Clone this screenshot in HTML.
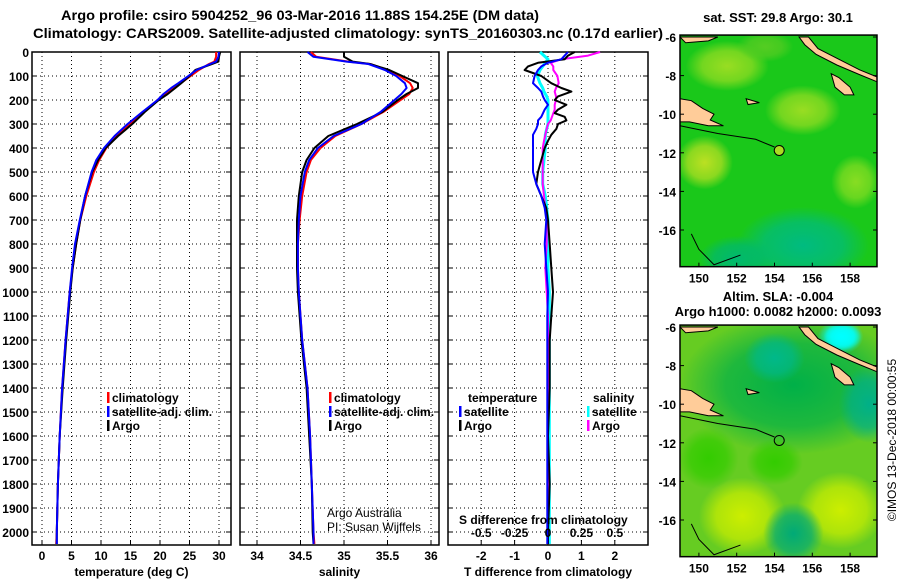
<!DOCTYPE html>
<html><head><meta charset="utf-8">
<style>
html,body{margin:0;padding:0;background:#fff;}
svg{display:block;font-family:"Liberation Sans",Arial,sans-serif;}
.t{font-weight:bold;font-size:12px;fill:#000;}
.title{font-weight:bold;font-size:14px;fill:#000;}
.mt{font-weight:bold;font-size:13px;fill:#000;}
</style></head>
<body>
<svg id="chart" width="900" height="580" viewBox="0 0 900 580" xmlns="http://www.w3.org/2000/svg">
<rect x="0" y="0" width="900" height="580" fill="#fff"/>
<text class="title" x="300" y="20" text-anchor="middle" textLength="478" lengthAdjust="spacingAndGlyphs">Argo profile: csiro 5904252_96 03-Mar-2016 11.88S 154.25E (DM data)</text>
<text class="title" x="348" y="38" text-anchor="middle" textLength="630" lengthAdjust="spacingAndGlyphs">Climatology: CARS2009. Satellite-adjusted climatology: synTS_20160303.nc (0.17d earlier)</text>
<g id="panels"></g>
<g id="maps"></g>
<text class="mt" x="778" y="22" text-anchor="middle">sat. SST: 29.8 Argo: 30.1</text>
<text class="mt" x="778" y="301" text-anchor="middle">Altim. SLA: -0.004</text>
<text class="mt" x="778" y="316" text-anchor="middle">Argo h1000: 0.0082 h2000: 0.0093</text>
<text x="0" y="0" font-size="12" transform="translate(896,440) rotate(-90)" text-anchor="middle">©IMOS 13-Dec-2018 00:00:55</text>
</svg>
<script>
// ---------- profile data ----------
const depths = [0,20,40,50,75,100,130,150,175,200,250,300,350,400,450,500,600,700,800,900,1000,1200,1400,1600,1800,2000,2050];
const tempClim = [29.5,29.5,29.2,28.3,26.6,25.2,23.5,22.2,20.8,19.6,17.2,14.9,12.7,10.9,9.7,8.8,7.5,6.5,5.8,5.2,4.7,4.0,3.4,3.0,2.7,2.5,2.4];
const tempSat = [30.0,29.9,29.5,28.5,26.2,24.8,23.1,21.9,20.6,19.6,17.0,14.5,12.3,10.5,9.2,8.4,7.3,6.4,5.6,5.1,4.7,4.0,3.4,3.0,2.7,2.5,2.5];
const tempArgo = [30.2,30.0,29.9,28.8,26.0,25.0,23.6,22.6,21.3,19.8,17.4,15.3,12.9,10.8,9.5,8.5,7.3,6.5,5.8,5.2,4.8,4.1,3.5,3.0,2.7,2.5,2.5];
const salClim = [34.62,34.68,35.05,35.3,35.5,35.64,35.76,35.79,35.75,35.65,35.45,35.2,34.9,34.73,34.62,34.57,34.52,34.49,34.47,34.47,34.48,34.52,34.58,34.61,34.63,34.65,34.66];
const salSat = [34.58,34.65,35.03,35.28,35.47,35.6,35.7,35.72,35.66,35.58,35.42,35.2,34.88,34.7,34.6,34.55,34.5,34.48,34.47,34.47,34.48,34.52,34.58,34.61,34.63,34.65,34.65];
const salArgo = [35.0,35.0,35.1,35.3,35.52,35.67,35.85,35.85,35.72,35.62,35.44,35.15,34.82,34.66,34.57,34.52,34.48,34.46,34.46,34.46,34.47,34.51,34.57,34.6,34.63,34.64,34.65];
const diffDepths = [0,15,30,45,60,75,100,130,150,165,185,200,220,240,255,270,285,300,320,345,370,400,450,500,550,600,650,700,800,900,1000,1100,1200,1400,1600,1800,2000,2050];
const tDiffArgo = [0.8,0.6,0.5,-0.3,-0.6,-0.7,-0.2,0.1,0.4,0.7,0.3,0.2,0.55,0.3,0.2,0.5,0.55,0.3,0.25,0.1,0.0,-0.1,-0.2,-0.3,-0.35,-0.2,-0.05,0.0,0.05,0.1,0.15,0.1,0.05,0.05,0.0,0.05,0.0,0.0];
const tDiffSat = [0.6,0.5,0.4,0.0,-0.2,-0.3,-0.4,-0.45,-0.3,-0.2,-0.15,-0.1,0.0,-0.1,-0.15,-0.2,-0.3,-0.3,-0.35,-0.45,-0.45,-0.45,-0.45,-0.45,-0.35,-0.2,-0.1,-0.05,-0.1,-0.05,0.0,-0.02,-0.02,-0.02,-0.02,-0.02,-0.02,-0.02];
const sDiffArgo = [0.39,0.3,0.1,0.02,0.04,0.04,0.07,0.08,0.06,0.05,0.06,0.06,0.05,0.05,0.04,0.03,0.02,0.0,-0.01,-0.02,-0.03,-0.04,-0.04,-0.04,-0.04,-0.03,-0.02,-0.01,-0.01,-0.02,-0.01,0,0,0,0,0,0,0];
const sDiffSat = [-0.06,-0.03,0.0,-0.02,-0.04,-0.06,-0.08,-0.06,-0.04,-0.03,-0.01,0,0,0,0,0,0,0,-0.01,-0.02,-0.02,-0.02,-0.03,-0.04,-0.04,-0.02,-0.01,0,0,0,0.01,0.01,0.01,0.01,0.01,0.01,0.01,0.01];
const depthTicks = [0,100,200,300,400,500,600,700,800,900,1000,1100,1200,1300,1400,1500,1600,1700,1800,1900,2000];
const tempTicks = [0,5,10,15,20,25,30];
const salTicks = [34,34.5,35,35.5,36];
const salTickLabels = ["34","34.5","35","35.5","36"];
const tDiffTicks = [-2,-1,0,1,2];
const sDiffTicks = [-0.5,-0.25,0,0.25,0.5];
const sDiffTickLabels = ["-0.5","-0.25","0","0.25","0.5"];
const lonTicks = [150,152,154,156,158];
const latTicks = [-6,-8,-10,-12,-14,-16];
const argoLon = 154.25, argoLat = -11.88;

const NS = "http://www.w3.org/2000/svg";
const root = document.getElementById('panels');
const mapsG = document.getElementById('maps');
function mk(tag, attrs, parent){const e=document.createElementNS(NS,tag);for(const k in attrs)e.setAttribute(k,attrs[k]);(parent||root).appendChild(e);return e;}

const TOP=52, BOT=545;
const yD = d => TOP + d*0.24;

function panel(x0,x1,xScale,ticks,labels,title,name){
  const g = mk('g',{});
  
  
  ticks.forEach((v,i)=>{
    const x=xScale(v);
    const gl=mk('line',{x1:x,x2:x,y1:TOP,y2:BOT,stroke:'#000','stroke-width':1,'stroke-dasharray':'1,3'},g);
    
    
    const tl=mk('text',{x:x,y:BOT+15,'text-anchor':'middle',class:'t'},g);
    tl.textContent=labels[i];
    
    
    mk('line',{x1:x,x2:x,y1:BOT,y2:BOT-5,stroke:'#000'},g);
  });
  depthTicks.forEach(d=>{
    const y=yD(d);
    if(d>0){
      const gl=mk('line',{x1:x0,x2:x1,y1:y,y2:y,stroke:'#000','stroke-width':1,'stroke-dasharray':'1,3'},g);
      
      
    }
    mk('line',{x1:x0,x2:x0+5,y1:y,y2:y,stroke:'#000'},g);
    mk('line',{x1:x1,x2:x1-5,y1:y,y2:y,stroke:'#000'},g);
  });
  const fr=mk('rect',{x:x0,y:TOP,width:x1-x0,height:BOT-TOP,fill:'none',stroke:'#000','stroke-width':1.5},g);
  
  
  const at=mk('text',{x:(x0+x1)/2,y:576,'text-anchor':'middle',class:'t'},g);
  at.textContent=title;
  
  
  return g;
}
function line(g,xs,ds,xScale,color,name,w){
  const pts=xs.map((v,i)=>xScale(v).toFixed(1)+','+yD(ds[i]).toFixed(1)).join(' ');
  const p=mk('polyline',{points:pts,fill:'none',stroke:color,'stroke-width':w||2,'stroke-linejoin':'round'},g);
  
  
}
function legendEntry(g,x,y,color,label,name){
  mk('rect',{x:x,y:y-10,width:2.5,height:11,fill:color},g);
  const t=mk('text',{x:x+5,y:y,class:'t'},g);
  t.textContent=label;
  
  
}

depthTicks.forEach(d=>{
  const t=mk('text',{x:29,y:yD(d)+5,'text-anchor':'end',class:'t'});
  t.textContent=String(d);
  
  
});

const xT = v => 42 + v*5.9;
const g1 = panel(32,231,xT,tempTicks,tempTicks.map(String),'temperature (deg C)','temperature-panel');
line(g1,tempClim,depths,xT,'#f00','temp-climatology-line');
line(g1,tempArgo,depths,xT,'#000','temp-argo-line');
line(g1,tempSat,depths,xT,'#00f','temp-satellite-line');
legendEntry(g1,107,402,'#f00','climatology','legend-climatology');
legendEntry(g1,107,416,'#00f','satellite-adj. clim.','legend-satellite');
legendEntry(g1,107,430,'#000','Argo','legend-argo');

const xS = v => 257 + (v-34)*87;
const g2 = panel(240,439,xS,salTicks,salTickLabels,'salinity','salinity-panel');
line(g2,salClim,depths,xS,'#f00','sal-climatology-line');
line(g2,salArgo,depths,xS,'#000','sal-argo-line');
line(g2,salSat,depths,xS,'#00f','sal-satellite-line');
legendEntry(g2,329,402,'#f00','climatology','legend-climatology');
legendEntry(g2,329,416,'#00f','satellite-adj. clim.','legend-satellite');
legendEntry(g2,329,430,'#000','Argo','legend-argo');
let c1=mk('text',{x:327,y:517,'font-size':12},g2); c1.textContent='Argo Australia';


let c2=mk('text',{x:327,y:531,'font-size':12},g2); c2.textContent='PI: Susan Wijffels';



const xDT = v => 548 + v*33.4;
const xDS = v => 548 + v*133.6;
const g3 = panel(448,648,xDT,tDiffTicks,tDiffTicks.map(String),'T difference from climatology','difference-panel');
line(g3,sDiffSat,diffDepths,xDS,'#0ff','sdiff-satellite-line',3);
line(g3,sDiffArgo,diffDepths,xDS,'#f0f','sdiff-argo-line');
line(g3,tDiffArgo,diffDepths,xDT,'#000','tdiff-argo-line');
line(g3,tDiffSat,diffDepths,xDT,'#00f','tdiff-satellite-line');
let lt=mk('text',{x:468,y:402,class:'t'},g3); lt.textContent='temperature';


legendEntry(g3,459,416,'#00f','satellite','legend-t-satellite');
legendEntry(g3,459,430,'#000','Argo','legend-t-argo');
let ls=mk('text',{x:593,y:402,class:'t'},g3); ls.textContent='salinity';


legendEntry(g3,587,416,'#0ff','satellite','legend-s-satellite');
legendEntry(g3,587,430,'#f0f','Argo','legend-s-argo');
let st=mk('text',{x:459,y:524,class:'t'},g3); st.textContent='S difference from climatology';


sDiffTicks.forEach((v,i)=>{
  const t=mk('text',{x:xDS(v),y:537,'text-anchor':'middle',class:'t'},g3);
  t.textContent=sDiffTickLabels[i];
  
  
});

// ---------- maps ----------
const MX0=680, MX1=877, lonX = lon => MX0 + (lon-149)*18.9;
function latY(lat,off){ return 37 + off + (-6-lat)*19.3; }
const land1 = [[149,-9.2],[149.6,-9.3],[150.2,-9.7],[150.8,-10.0],[150.6,-10.3],[151.3,-10.6],[150.5,-10.6],[149.5,-10.4],[149,-10.4]];
const land2 = [[149,-6],[151,-6],[150.5,-6.2],[149.3,-6.3]];
const land3 = [[155.3,-6],[155.8,-6],[156.3,-6.6],[157.5,-7.2],[158.5,-7.7],[159.5,-8.1],[159.5,-8.35],[158.5,-7.95],[157.3,-7.45],[156.2,-6.9],[155.6,-6.4]];
const land4 = [[157.0,-7.9],[157.4,-8.1],[158.0,-8.6],[158.2,-9.0],[157.7,-9.0],[157.2,-8.6]];
const land5 = [[152.5,-9.2],[153.2,-9.4],[152.6,-9.5]];
function mapPanel(off,name,blobs,base){
  const g=mk('g',{},mapsG);
  
  
  const top=latY(-5.9,off), bot=latY(-17.9,off);
  const id='clip'+off;
  const cp=mk('clipPath',{id:id},g); mk('rect',{x:MX0,y:top,width:MX1-MX0,height:bot-top},cp);
  const inner=mk('g',{'clip-path':'url(#'+id+')'},g);
  mk('rect',{x:MX0,y:top,width:MX1-MX0,height:bot-top,fill:base},inner);
  const defs=mk('defs',{},g);
  blobs.forEach((b,i)=>{
    const gid='grad'+off+'_'+i;
    const rg=mk('radialGradient',{id:gid},defs);
    mk('stop',{offset:'0','stop-color':b[4],'stop-opacity':1},rg);
    mk('stop',{offset:'0.6','stop-color':b[4],'stop-opacity':0.7},rg);
    mk('stop',{offset:'1','stop-color':b[4],'stop-opacity':0},rg);
    mk('ellipse',{cx:lonX(b[0]),cy:latY(b[1],off),rx:b[2]*18.9,ry:b[3]*19.3,fill:'url(#'+gid+')'},inner);
  });
  [land1,land2,land3,land4,land5].forEach(L=>{
    const p=mk('polygon',{points:L.map(q=>lonX(q[0])+','+latY(q[1],off)).join(' '),fill:'#ffcc99',stroke:'#000','stroke-width':1},inner);
    
    
  });
  mk('polyline',{points:[[149,-10.6],[151,-11],[153,-11.3],[154,-11.7]].map(q=>lonX(q[0])+','+latY(q[1],off)).join(' '),fill:'none',stroke:'#000','stroke-width':1},inner);
  mk('polyline',{points:[[149.6,-16.2],[150,-17],[150.8,-17.8],[152.2,-17.3]].map(q=>lonX(q[0])+','+latY(q[1],off)).join(' '),fill:'none',stroke:'#000','stroke-width':1},inner);
  const c=mk('circle',{cx:lonX(argoLon),cy:latY(argoLat,off),r:5,fill:off?'none':'#aadd22',stroke:'#000','stroke-width':1},inner);
  
  
  mk('rect',{x:MX0,y:top,width:MX1-MX0,height:bot-top,fill:'none',stroke:'#000','stroke-width':1.5},g);
  lonTicks.forEach(l=>{
    const x=lonX(l);
    mk('line',{x1:x,x2:x,y1:bot,y2:bot-4,stroke:'#000'},g);
    const t=mk('text',{x:x,y:bot+16,'text-anchor':'middle',class:'t'},g);
    t.textContent=String(l);
    
    
  });
  latTicks.forEach(l=>{
    const y=latY(l,off);
    mk('line',{x1:MX0,x2:MX0+4,y1:y,y2:y,stroke:'#000'},g);
    mk('line',{x1:MX1,x2:MX1-4,y1:y,y2:y,stroke:'#000'},g);
    const t=mk('text',{x:MX0-4,y:y+5,'text-anchor':'end',class:'t'},g);
    t.textContent=String(l);
    
    
  });
}
mapPanel(0,'sst-map',[
  [155.5,-16.8,3.5,2.0,'#00bb80'],[152,-17.5,2,1.2,'#00b870'],
  [151.5,-7.5,2.2,1.3,'#99dd22'],[155.5,-9.8,2.0,1.3,'#99dd22'],
  [150.3,-12.5,1.5,1.4,'#bbe022'],[158.3,-13.5,1.3,1.4,'#88dd22'],[153.5,-6.5,1.5,0.8,'#55cc22']
],'#1ac81a');
mapPanel(290,'sla-map',[
  [155,-9,6,3.6,'#00b048'],[154,-7.6,1.6,1.3,'#00b88a'],[159,-10,1.6,2,'#00b088'],
  [157.5,-6.5,1.2,0.9,'#00ffff'],[157.6,-6.5,1.0,0.7,'#00ffff'],
  [152.3,-15.8,2.3,2,'#ccee00'],[157.5,-15.5,2.3,2,'#ccee00'],[150.5,-12.8,1.6,1.6,'#33cc00'],
  [155,-16.7,1.6,1.6,'#00aa77'],[154,-13,1.5,1.2,'#33cc00']
],'#66cc22');
</script>
</body></html>
